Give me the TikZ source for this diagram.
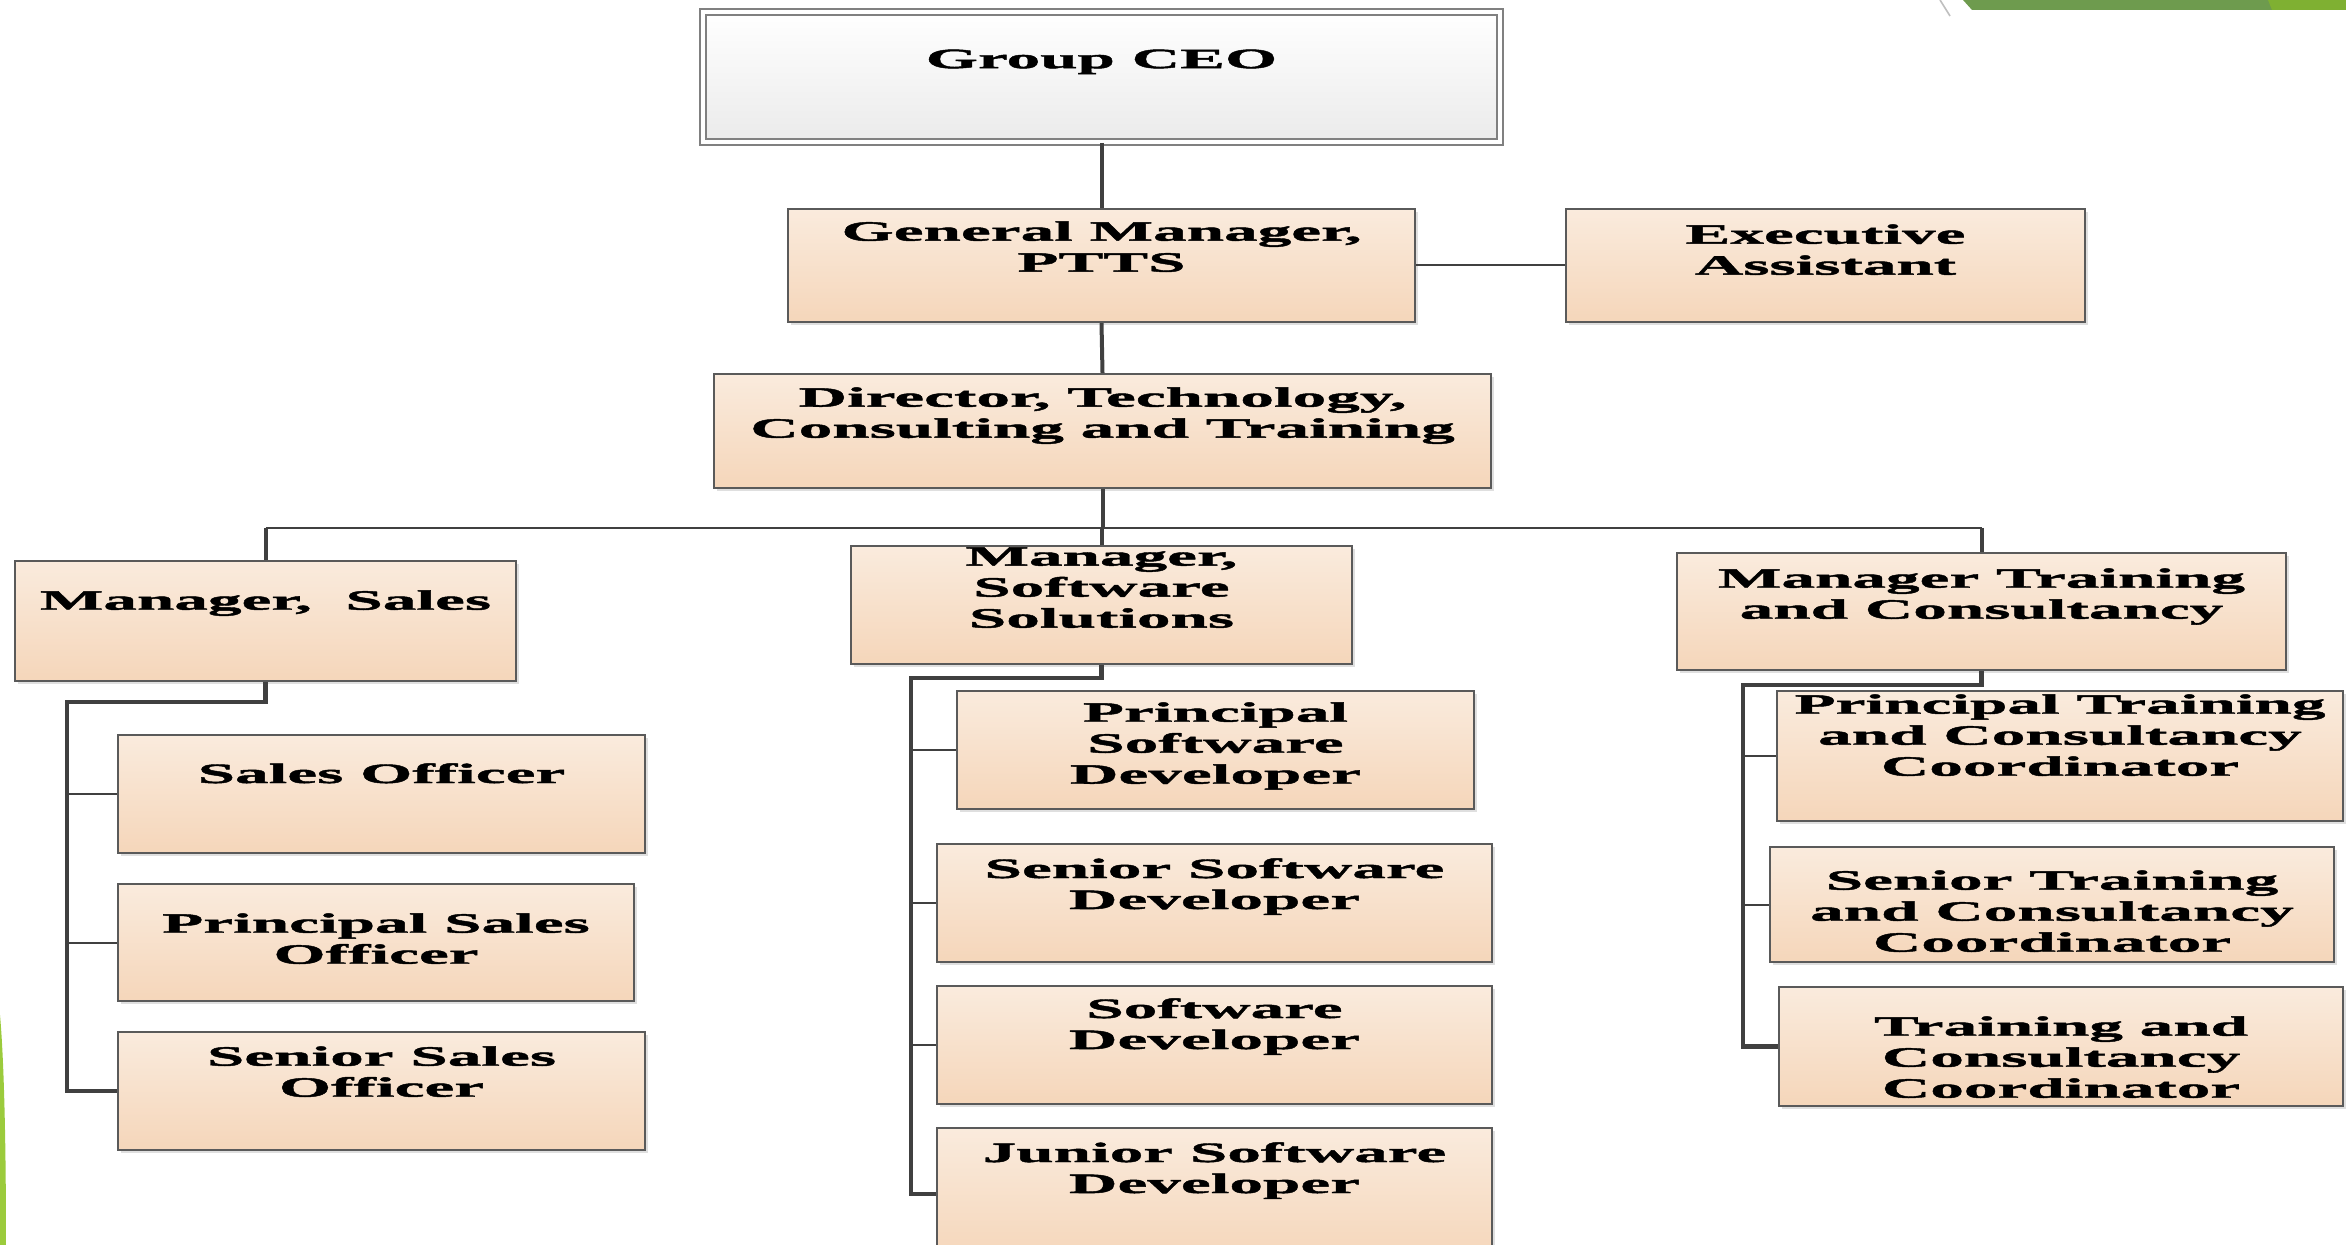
\documentclass[tikz,border=0pt]{standalone}
\usepackage{fontspec}
\setmainfont{Liberation Serif}[FakeStretch=2.4, BoldFeatures={FakeBold=1.6}]
\usetikzlibrary{positioning}
\usetikzlibrary{shadows}
\definecolor{boxtop}{RGB}{250,235,221}
\definecolor{boxbot}{RGB}{245,214,186}
\definecolor{lgray}{RGB}{64,64,64}
\definecolor{bgray}{RGB}{90,90,90}
\definecolor{dgreen}{RGB}{110,155,78}
\definecolor{lgreen}{RGB}{127,176,50}
\definecolor{sgreen}{RGB}{155,203,60}
\tikzset{box/.style = {draw=bgray, line width=1.1pt, inner sep=0, top color=boxtop, bottom color=boxbot,
    drop shadow={opacity=0.25, shadow xshift=1.5pt, shadow yshift=-1.5pt}}}
\tikzset{ceobox/.style = {draw=gray, double=white, double distance=2pt, line width=0.8pt, inner sep=0,
    top color=white, bottom color=black!8, drop shadow={opacity=0.2, shadow xshift=1.5pt, shadow yshift=-1.5pt}}}
\tikzset{sz/.style 2 args = {minimum width=#1pt, minimum height=#2pt}}
\tikzset{lbl/.style = {anchor=north, align=center, inner sep=0, font=\fontsize{14}{15.5}\selectfont\bfseries}}
\tikzset{trunk/.style = {draw=lgray, line width=2pt}}
\tikzset{bus/.style = {draw=lgray, line width=1.3pt}}
\tikzset{sub/.style = {draw=lgray, line width=2.2pt}}
\tikzset{branch/.style = {draw=lgray, line width=1pt}}

\begin{document}
\begin{tikzpicture}[x=0.5pt, y=-0.5pt]
  \useasboundingbox (0,0) rectangle (2346,1245);

  % slide decoration
  \fill[dgreen] (1963,0) -- (1972,10) -- (2346,10) -- (2346,0) -- cycle;
  \fill[lgreen] (2268,0) -- (2272,10) -- (2346,10) -- (2346,0) -- cycle;
  \draw[gray!50, line width=0.8pt] (1940,0) -- (1950,16);
  \fill[sgreen] (0,1015) .. controls (4,1060) and (6,1140) .. (6,1245) -- (0,1245) -- cycle;

  % top levels
  \node[ceobox, sz={398.5}{65}, label={[lbl, yshift=-19pt]north:Group CEO}] (ceo) at (1101.5,77) {};
  \node[box, sz={313.5}{56.5}, label={[lbl, yshift=-6.5pt]north:{General Manager,\\PTTS}}] (gm) at (1101.5,265.5) {};
  \node[box, sz={259.5}{56.5}, label={[lbl, yshift=-8pt]north:{Executive\\Assistant}}] (ea) at (1825.5,265.5) {};
  \node[box, sz={388.5}{57}, label={[lbl, yshift=-7pt]north:{Director, Technology,\\Consulting and Training}}] (dir) at (1102.5,431) {};

  % managers
  \node[box, sz={250.5}{60}, label={[lbl, yshift=-15pt]north:{Manager,\ \ Sales}}] (ms) at (265.5,621) {};
  \node[box, sz={250.5}{59}, label={[lbl, yshift=-1pt]north:{Manager,\\Software\\Solutions}}] (msw) at (1101.5,605) {};
  \node[box, sz={304.5}{58.5}, label={[lbl, yshift=-8pt]north:{Manager Training\\and Consultancy}}] (mt) at (1981.5,611.5) {};

  % sales
  \node[box, sz={263.5}{59}, label={[lbl, yshift=-14.5pt]north:Sales Officer}] (so) at (381.5,794) {};
  \node[box, sz={258}{58.5}, label={[lbl, yshift=-15pt]north:{Principal Sales\\Officer}}] (pso) at (376,942.5) {};
  \node[box, sz={263.5}{59}, label={[lbl, yshift=-7.5pt]north:{Senior Sales\\Officer}}] (sso) at (381.5,1091) {};

  % software
  \node[box, sz={258.5}{59}, label={[lbl, yshift=-6pt]north:{Principal\\Software\\Developer}}] (psd) at (1215.5,750) {};
  \node[box, sz={277.5}{59}, label={[lbl, yshift=-7.5pt]north:{Senior Software\\Developer}}] (ssd) at (1214.5,903) {};
  \node[box, sz={277.5}{59}, label={[lbl, yshift=-6.5pt]north:{Software\\Developer}}] (sd) at (1214.5,1045) {};
  \node[box, sz={277.5}{66}, label={[lbl, yshift=-7.5pt]north:{Junior Software\\Developer}}] (jsd) at (1214.5,1194) {};

  % training
  \node[box, sz={283}{65}, label={[lbl, yshift=-2pt]north:{Principal Training\\and Consultancy\\Coordinator}}] (ptc) at (2060,756) {};
  \node[box, sz={282}{57.5}, label={[lbl, yshift=-12pt]north:{Senior Training\\and Consultancy\\Coordinator}}] (stc) at (2052,904.5) {};
  \node[box, sz={282}{59.5}, label={[lbl, yshift=-15pt]north:{Training and\\Consultancy\\Coordinator}}] (tcc) at (2061,1046.5) {};

  % connectors
  \coordinate (busl) at (265.5,528);
  \coordinate (busr) at (1981.5,528);
  \draw[trunk] (ceo.south) -- (gm.north);
  \draw[trunk] (gm.south) -- (dir.north);
  \draw[branch] (gm.east) -- (ea.west);
  \draw[trunk] (dir.south) -- (dir.south |- busl);
  \draw[bus] (busl) -- (busr);
  \draw[trunk] (busl) -- (ms.north);
  \draw[trunk] (msw.north |- busl) -- (msw.north);
  \draw[trunk] (busr) -- (mt.north);

  \coordinate (sbus) at (67,702);
  \draw[sub] (ms.south) |- (sbus) |- (sso.west);
  \draw[branch] (sbus |- so.west) -- (so.west);
  \draw[branch] (sbus |- pso.west) -- (pso.west);

  \coordinate (wbus) at (911,678);
  \draw[sub] (msw.south) |- (wbus) |- (jsd.west);
  \draw[branch] (wbus |- psd.west) -- (psd.west);
  \draw[branch] (wbus |- ssd.west) -- (ssd.west);
  \draw[branch] (wbus |- sd.west) -- (sd.west);

  \coordinate (tbus) at (1743,685);
  \draw[sub] (mt.south) |- (tbus) |- (tcc.west);
  \draw[branch] (tbus |- ptc.west) -- (ptc.west);
  \draw[branch] (tbus |- stc.west) -- (stc.west);
\end{tikzpicture}
\end{document}
